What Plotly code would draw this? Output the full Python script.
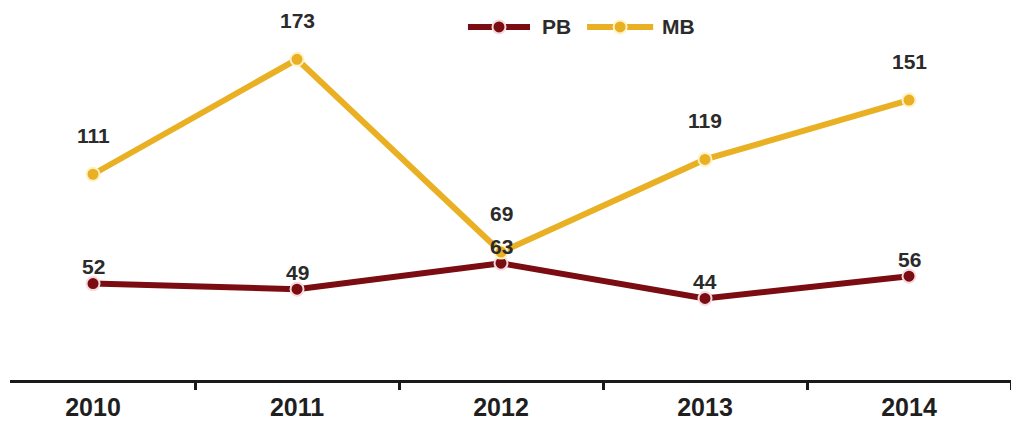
import plotly.graph_objects as go

# Yearly counts for the two series
years = ["2010", "2011", "2012", "2013", "2014"]
pb_values = [52, 49, 63, 44, 56]
mb_values = [111, 173, 69, 119, 151]
series_names = ["PB", "MB"]

PB_COLOR = "#7a0c12"
MB_COLOR = "#e9b024"
PB_EDGE = "#f6d9dc"
MB_EDGE = "#fff2c4"
FONT = "Liberation Sans, Arial, sans-serif"

fig = go.Figure()

fig.add_trace(go.Scatter(
    x=years, y=pb_values, name=series_names[0], mode="lines+markers",
    line=dict(color=PB_COLOR, width=6),
    marker=dict(size=13, color=PB_COLOR, line=dict(color=PB_EDGE, width=2)),
))
fig.add_trace(go.Scatter(
    x=years, y=mb_values, name=series_names[1], mode="lines+markers",
    line=dict(color=MB_COLOR, width=6),
    marker=dict(size=13, color=MB_COLOR, line=dict(color=MB_EDGE, width=2)),
))

# Value labels above each point (category index used for x)
for vals, shift in ((pb_values, 17), (mb_values, 39)):
    for i, v in enumerate(vals):
        fig.add_annotation(
            x=i, y=v, text=f"<b>{v}</b>", showarrow=False, yshift=shift,
            font=dict(family=FONT, size=21, color="#2b2b2b"),
        )

# Hand-built legend at the top: long line swatch with a dot, then the name
legend_y = 0.929
for name, color, edge, x0, x1, xtext in (
    (series_names[0], PB_COLOR, PB_EDGE, 0.4575, 0.5195, 0.529),
    (series_names[1], MB_COLOR, MB_EDGE, 0.5765, 0.6425, 0.649),
):
    fig.add_shape(type="line", xref="paper", yref="paper",
                  x0=x0, x1=x1, y0=legend_y, y1=legend_y,
                  line=dict(color=color, width=6))
    fig.add_shape(type="circle", xref="paper", yref="paper",
                  xsizemode="pixel", ysizemode="pixel",
                  xanchor=(x0 + x1) / 2, yanchor=legend_y,
                  x0=-6.5, x1=6.5, y0=-6.5, y1=6.5,
                  fillcolor=color, line=dict(color=edge, width=2))
    fig.add_annotation(xref="paper", yref="paper", x=xtext, y=legend_y,
                       xanchor="left", yanchor="middle", showarrow=False,
                       text=f"<b>{name}</b>",
                       font=dict(family=FONT, size=21, color="#2b2b2b"))

fig.update_layout(
    width=1011, height=423,
    margin=dict(l=10, r=0, t=0, b=43),
    paper_bgcolor="white", plot_bgcolor="white",
    showlegend=False,
    xaxis=dict(
        type="category", range=[-0.407, 4.5],
        showline=True, linecolor="#1a1a1a", linewidth=3,
        tickson="boundaries", ticks="outside", ticklen=7, tickwidth=3,
        tickcolor="#1a1a1a", showgrid=False, zeroline=False,
        ticklabelstandoff=3,
        tickfont=dict(family=FONT, size=25, color="#1f1f1f", weight="bold"),
    ),
    yaxis=dict(
        range=[0, 205], visible=False, showgrid=False, zeroline=False,
    ),
)

fig.write_html("out.html")
